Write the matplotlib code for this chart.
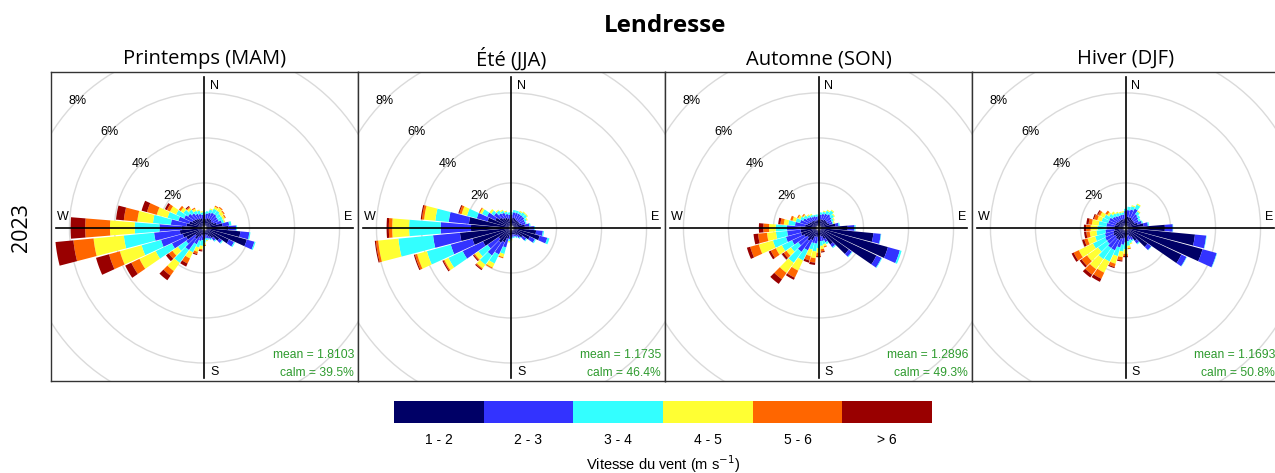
import numpy as np
import matplotlib.pyplot as plt
from matplotlib.patches import Circle

# data (percent of time, cumulative over speed classes)
seasons = ['Printemps (MAM)', 'Été (JJA)', 'Automne (SON)', 'Hiver (DJF)']
directions = [0, 10, 20, 30, 40, 50, 60, 70, 80, 90, 100, 110, 120, 130, 140, 150, 160, 170,
              180, 190, 200, 210, 220, 230, 240, 250, 260, 270, 280, 290, 300, 310, 320, 330, 340, 350]
speed_labels = ['1 - 2', '2 - 3', '3 - 4', '4 - 5', '5 - 6', '> 6']
speed_colors = ['#000066', '#3333FF', '#33FFFF', '#FFFF33', '#FF6600', '#990000']
mean_ws = ['1.8103', '1.1735', '1.2896', '1.1693']
calm_pct = ['39.5', '46.4', '49.3', '50.8']
rings = [2, 4, 6, 8]

mam = [
    [0.4, 0.6, 0.7, 0.7, 0.7, 0.7], [0.4, 0.65, 0.75, 0.75, 0.75, 0.75],
    [0.45, 0.7, 0.85, 0.9, 0.9, 0.9], [0.45, 0.75, 0.95, 1.05, 1.1, 1.1],
    [0.45, 0.75, 0.95, 1.1, 1.15, 1.15], [0.4, 0.7, 0.9, 1.05, 1.1, 1.1],
    [0.45, 0.7, 0.9, 1.0, 1.05, 1.05], [0.55, 0.8, 0.9, 0.95, 0.95, 0.95],
    [0.8, 1.1, 1.2, 1.2, 1.2, 1.2], [1.05, 1.4, 1.45, 1.45, 1.45, 1.45],
    [1.6, 2.0, 2.05, 2.05, 2.05, 2.05], [1.95, 2.3, 2.35, 2.35, 2.35, 2.35],
    [1.2, 1.45, 1.5, 1.5, 1.5, 1.5], [0.8, 0.95, 1.0, 1.0, 1.0, 1.0],
    [0.55, 0.7, 0.75, 0.75, 0.75, 0.75], [0.45, 0.55, 0.6, 0.6, 0.6, 0.6],
    [0.35, 0.5, 0.55, 0.55, 0.55, 0.55], [0.3, 0.45, 0.55, 0.6, 0.6, 0.6],
    [0.3, 0.5, 0.65, 0.75, 0.8, 0.8], [0.3, 0.55, 0.8, 0.95, 1.0, 1.05],
    [0.35, 0.6, 0.9, 1.1, 1.2, 1.25], [0.45, 0.8, 1.2, 1.5, 1.75, 1.9],
    [0.6, 1.2, 1.9, 2.35, 2.6, 2.85], [0.5, 1.0, 1.45, 1.75, 1.95, 2.1],
    [0.9, 1.6, 2.4, 3.2, 3.6, 3.9], [1.0, 2.0, 2.9, 3.9, 4.4, 5.0],
    [1.1, 2.25, 3.6, 4.95, 5.85, 6.65], [1.0, 2.0, 3.1, 4.2, 5.3, 5.95],
    [0.8, 1.5, 2.3, 3.0, 3.6, 3.95], [0.7, 1.2, 1.7, 2.2, 2.65, 2.9],
    [0.6, 1.0, 1.4, 1.7, 1.85, 1.95], [0.55, 0.9, 1.15, 1.3, 1.4, 1.4],
    [0.5, 0.8, 1.0, 1.1, 1.15, 1.2], [0.45, 0.7, 0.85, 0.95, 1.0, 1.0],
    [0.45, 0.65, 0.8, 0.85, 0.85, 0.85], [0.4, 0.6, 0.7, 0.75, 0.75, 0.75],
]
jja = [
    [0.4, 0.6, 0.7, 0.7, 0.7, 0.7], [0.45, 0.7, 0.8, 0.8, 0.8, 0.8],
    [0.45, 0.7, 0.8, 0.8, 0.8, 0.8], [0.4, 0.7, 0.8, 0.85, 0.85, 0.85],
    [0.4, 0.7, 0.85, 0.9, 0.9, 0.9], [0.4, 0.7, 0.85, 0.9, 0.9, 0.9],
    [0.4, 0.65, 0.75, 0.8, 0.8, 0.8], [0.45, 0.65, 0.7, 0.7, 0.7, 0.7],
    [0.6, 0.8, 0.85, 0.85, 0.85, 0.85], [0.8, 1.0, 1.05, 1.05, 1.05, 1.05],
    [1.1, 1.4, 1.45, 1.45, 1.45, 1.45], [1.3, 1.65, 1.75, 1.75, 1.75, 1.75],
    [0.9, 1.15, 1.2, 1.2, 1.2, 1.2], [0.6, 0.8, 0.85, 0.85, 0.85, 0.85],
    [0.4, 0.55, 0.6, 0.6, 0.6, 0.6], [0.35, 0.45, 0.5, 0.5, 0.5, 0.5],
    [0.3, 0.4, 0.45, 0.45, 0.45, 0.45], [0.3, 0.4, 0.45, 0.45, 0.45, 0.45],
    [0.3, 0.45, 0.5, 0.55, 0.55, 0.55], [0.35, 0.5, 0.6, 0.65, 0.65, 0.65],
    [0.5, 0.9, 1.2, 1.35, 1.4, 1.4], [0.7, 1.3, 1.75, 1.95, 2.0, 2.0],
    [0.8, 1.5, 2.0, 2.2, 2.25, 2.3], [0.7, 1.3, 1.8, 2.0, 2.05, 2.1],
    [1.4, 2.4, 3.1, 3.3, 3.35, 3.4], [1.8, 2.8, 3.9, 4.35, 4.45, 4.5],
    [2.3, 3.5, 5.05, 5.95, 6.05, 6.1], [1.8, 3.15, 4.55, 5.3, 5.45, 5.55],
    [1.9, 2.8, 3.4, 3.9, 4.0, 4.05], [1.1, 1.6, 2.05, 2.3, 2.4, 2.45],
    [0.8, 1.2, 1.45, 1.55, 1.6, 1.6], [0.65, 0.95, 1.1, 1.2, 1.2, 1.2],
    [0.55, 0.8, 0.95, 1.0, 1.0, 1.0], [0.5, 0.75, 0.85, 0.9, 0.9, 0.9],
    [0.45, 0.65, 0.75, 0.8, 0.8, 0.8], [0.4, 0.6, 0.7, 0.7, 0.7, 0.7],
]
son = [
    [0.35, 0.55, 0.6, 0.6, 0.6, 0.6], [0.4, 0.6, 0.7, 0.7, 0.7, 0.7],
    [0.4, 0.65, 0.75, 0.8, 0.8, 0.8], [0.4, 0.7, 0.85, 0.9, 0.9, 0.9],
    [0.45, 0.75, 0.95, 1.0, 1.0, 1.0], [0.45, 0.7, 0.85, 0.9, 0.9, 0.9],
    [0.45, 0.65, 0.75, 0.8, 0.8, 0.8], [0.5, 0.65, 0.7, 0.75, 0.75, 0.75],
    [0.75, 0.9, 0.95, 0.95, 0.95, 0.95], [1.3, 1.6, 1.65, 1.65, 1.65, 1.65],
    [2.45, 2.78, 2.8, 2.8, 2.8, 2.8], [3.2, 3.75, 3.83, 3.83, 3.83, 3.83],
    [2.85, 3.1, 3.13, 3.13, 3.13, 3.13], [1.65, 1.82, 1.85, 1.85, 1.85, 1.85],
    [0.9, 1.05, 1.1, 1.1, 1.1, 1.1], [0.55, 0.7, 0.8, 0.8, 0.8, 0.8],
    [0.4, 0.6, 0.75, 0.85, 0.9, 0.9], [0.35, 0.6, 0.8, 0.95, 1.05, 1.1],
    [0.35, 0.6, 0.9, 1.1, 1.25, 1.3], [0.4, 0.7, 1.05, 1.35, 1.55, 1.65],
    [0.4, 0.7, 1.0, 1.3, 1.5, 1.6], [0.6, 1.1, 1.6, 2.1, 2.45, 2.55],
    [0.7, 1.3, 1.9, 2.45, 2.8, 3.05], [0.6, 1.1, 1.5, 1.75, 1.9, 2.0],
    [0.7, 1.3, 1.8, 2.1, 2.35, 2.45], [0.8, 1.5, 2.1, 2.75, 3.15, 3.3],
    [0.8, 1.4, 1.9, 2.3, 2.7, 2.9], [0.8, 1.4, 1.9, 2.2, 2.45, 2.65],
    [0.6, 1.05, 1.35, 1.55, 1.7, 1.8], [0.5, 0.85, 1.05, 1.2, 1.3, 1.3],
    [0.45, 0.75, 0.9, 1.0, 1.05, 1.05], [0.4, 0.65, 0.8, 0.85, 0.9, 0.9],
    [0.4, 0.6, 0.7, 0.75, 0.75, 0.75], [0.35, 0.55, 0.65, 0.7, 0.7, 0.7],
    [0.35, 0.55, 0.6, 0.6, 0.6, 0.6], [0.35, 0.5, 0.6, 0.6, 0.6, 0.6],
]
djf = [
    [0.45, 0.75, 0.85, 0.85, 0.85, 0.85], [0.5, 0.8, 0.95, 0.95, 0.95, 0.95],
    [0.5, 0.85, 1.0, 1.05, 1.05, 1.05], [0.5, 0.95, 1.15, 1.2, 1.2, 1.2],
    [0.45, 0.75, 0.9, 0.95, 0.95, 0.95], [0.45, 0.7, 0.8, 0.8, 0.8, 0.8],
    [0.45, 0.65, 0.75, 0.75, 0.75, 0.75], [0.55, 0.75, 0.8, 0.8, 0.8, 0.8],
    [0.8, 1.0, 1.05, 1.05, 1.05, 1.05], [1.75, 2.1, 2.12, 2.12, 2.12, 2.12],
    [3.1, 3.6, 3.62, 3.62, 3.62, 3.62], [3.55, 4.2, 4.22, 4.22, 4.22, 4.22],
    [2.75, 3.0, 3.02, 3.02, 3.02, 3.02], [1.2, 1.4, 1.42, 1.42, 1.42, 1.42],
    [0.7, 0.85, 0.9, 0.9, 0.9, 0.9], [0.45, 0.6, 0.65, 0.65, 0.65, 0.65],
    [0.35, 0.55, 0.7, 0.75, 0.75, 0.75], [0.35, 0.6, 0.8, 0.9, 0.95, 0.95],
    [0.4, 0.65, 0.95, 1.15, 1.25, 1.3], [0.45, 0.75, 1.05, 1.3, 1.45, 1.5],
    [0.5, 0.9, 1.3, 1.65, 1.8, 1.85], [0.6, 1.1, 1.65, 2.2, 2.5, 2.65],
    [0.6, 1.1, 1.7, 2.25, 2.55, 2.7], [0.55, 1.0, 1.5, 2.1, 2.4, 2.5],
    [0.6, 1.0, 1.6, 2.3, 2.55, 2.65], [0.55, 0.95, 1.4, 1.75, 1.9, 2.0],
    [0.5, 0.9, 1.3, 1.6, 1.75, 1.85], [0.5, 0.85, 1.25, 1.55, 1.75, 1.85],
    [0.5, 0.85, 1.2, 1.5, 1.65, 1.75], [0.45, 0.8, 1.1, 1.3, 1.45, 1.5],
    [0.45, 0.8, 1.05, 1.25, 1.35, 1.4], [0.4, 0.7, 0.9, 1.0, 1.1, 1.1],
    [0.4, 0.65, 0.8, 0.9, 0.9, 0.9], [0.4, 0.6, 0.75, 0.8, 0.8, 0.8],
    [0.4, 0.6, 0.7, 0.75, 0.75, 0.75], [0.4, 0.6, 0.7, 0.75, 0.75, 0.75],
]
season_data = [mam, jja, son, djf]

W, H = 1275, 473
fig = plt.figure(figsize=(W / 100, H / 100), dpi=100)
label_font = ['Liberation Sans', 'DejaVu Sans']
title_font = ['Open Sans', 'DejaVu Sans']


def draw_rose(ax, cum):
    half = 4.6  # half width of a wedge in degrees
    for d, row in zip(directions, cum):
        lo = 0.0
        for hi, col in zip(row, speed_colors):
            if hi > lo:
                th = np.radians(np.linspace(d - half, d + half, 8))
                xs = np.concatenate([lo * np.sin(th), hi * np.sin(th[::-1])])
                ys = np.concatenate([lo * np.cos(th), hi * np.cos(th[::-1])])
                ax.fill(xs, ys, color=col, lw=0, zorder=3)
            lo = hi


panel_left = 51
panel_w = 307
for i, (name, cum) in enumerate(zip(seasons, season_data)):
    x0 = panel_left + i * panel_w
    ax = fig.add_axes([x0 / W, 1 - 381 / H, panel_w / W, 309 / H])
    ax.set_xlim(-6.82, 6.82)
    ax.set_ylim(-6.8, 6.93)
    ax.set_xticks([])
    ax.set_yticks([])
    for sp in ax.spines.values():
        sp.set_color('#333333')
        sp.set_linewidth(1)

    for r in rings:
        ax.add_patch(Circle((0, 0), r, fill=False, ec='#dadada', lw=1, zorder=1))
        ax.text(-r * np.sin(np.pi / 4), r * np.cos(np.pi / 4), f'{r}%', fontsize=9,
                family=label_font, ha='center', va='center', zorder=2)

    draw_rose(ax, cum)
    ax.add_patch(Circle((0, 0), 0.1, fc='white', ec='#888888', lw=0.5, zorder=4))

    ax.plot([-6.6, 6.6], [0, 0], color='black', lw=1.2, zorder=5)
    ax.plot([0, 0], [-6.65, 6.7], color='black', lw=1.2, zorder=5)
    ax.text(0.25, 6.3, 'N', fontsize=9, family=label_font, ha='left', va='center', zorder=6)
    ax.text(0.25, -6.4, 'S', fontsize=9, family=label_font, ha='left', va='center', zorder=6)
    ax.text(-6.56, 0.5, 'W', fontsize=9, family=label_font, ha='left', va='center', zorder=6)
    ax.text(6.55, 0.5, 'E', fontsize=9, family=label_font, ha='right', va='center', zorder=6)

    ax.text(0.987, 0.084, f'mean = {mean_ws[i]}', transform=ax.transAxes, fontsize=8.7,
            family=label_font, color='#2e9b2e', ha='right', va='center')
    ax.text(0.987, 0.025, f'calm = {calm_pct[i]}%', transform=ax.transAxes, fontsize=8.7,
            family=label_font, color='#2e9b2e', ha='right', va='center')

    fig.text((x0 + panel_w / 2) / W, 1 - 59 / H, name, fontsize=14.5, family=title_font,
             ha='center', va='center')

fig.text(665 / W, 1 - 26 / H, 'Lendresse', fontsize=17.5, fontweight='bold',
         family=title_font, ha='center', va='center')
fig.text(22 / W, 1 - 228 / H, '2023', fontsize=15.5, family=title_font, rotation=90,
         ha='center', va='center')

# speed legend
lax = fig.add_axes([394 / W, 1 - 423 / H, 538 / W, 22 / H])
lax.bar(range(len(speed_colors)), [1] * len(speed_colors), width=1, color=speed_colors)
lax.set_xlim(-0.5, len(speed_colors) - 0.5)
lax.set_ylim(0, 1)
lax.axis('off')
for k, lab in enumerate(speed_labels):
    lax.text(k, -0.78, lab, fontsize=10, family=label_font, ha='center', va='center',
             clip_on=False)
fig.text(663 / W, 1 - 464 / H, r'Vitesse du vent (m s$^{-1}$)', fontsize=10.5,
         family=label_font, ha='center', va='center')

fig.savefig('out.png', dpi=100)
